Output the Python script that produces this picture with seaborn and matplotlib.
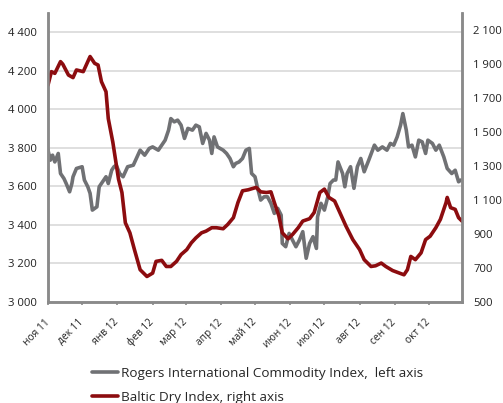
import numpy as np
import pandas as pd
import matplotlib
matplotlib.use("Agg")
import matplotlib.pyplot as plt
from matplotlib.ticker import FuncFormatter
import seaborn as sns

# Rogers International Commodity Index (left axis)
rici_dates = [
    "2011-11-01", "2011-11-03", "2011-11-05", "2011-11-07", "2011-11-10", "2011-11-12",
    "2011-11-15", "2011-11-17", "2011-11-20", "2011-11-22", "2011-11-23", "2011-11-26",
    "2011-12-01", "2011-12-03", "2011-12-06", "2011-12-08", "2011-12-10", "2011-12-14",
    "2011-12-16", "2011-12-19", "2011-12-22", "2011-12-24", "2011-12-27", "2011-12-29",
    "2011-12-31", "2012-01-03", "2012-01-06", "2012-01-10", "2012-01-15", "2012-01-21",
    "2012-01-25", "2012-01-29", "2012-02-01", "2012-02-06", "2012-02-09", "2012-02-12",
    "2012-02-15", "2012-02-17", "2012-02-20", "2012-02-23", "2012-02-26", "2012-02-29",
    "2012-03-03", "2012-03-07", "2012-03-10", "2012-03-13", "2012-03-16", "2012-03-19",
    "2012-03-22", "2012-03-24", "2012-03-26", "2012-03-29", "2012-04-03", "2012-04-06",
    "2012-04-09", "2012-04-12", "2012-04-14", "2012-04-17", "2012-04-20", "2012-04-23",
    "2012-04-26", "2012-04-28", "2012-05-01", "2012-05-03", "2012-05-06", "2012-05-09",
    "2012-05-12", "2012-05-15", "2012-05-18", "2012-05-21", "2012-05-24", "2012-05-25",
    "2012-05-28", "2012-05-31", "2012-06-03", "2012-06-06", "2012-06-09", "2012-06-12",
    "2012-06-15", "2012-06-18", "2012-06-21", "2012-06-24", "2012-06-25", "2012-06-28",
    "2012-07-01", "2012-07-04", "2012-07-06", "2012-07-09", "2012-07-11", "2012-07-13",
    "2012-07-17", "2012-07-19", "2012-07-21", "2012-07-24", "2012-07-27", "2012-07-30",
    "2012-08-02", "2012-08-05", "2012-08-09", "2012-08-14", "2012-08-17", "2012-08-21",
    "2012-08-25", "2012-08-28", "2012-08-31", "2012-09-03", "2012-09-06", "2012-09-08",
    "2012-09-11", "2012-09-13", "2012-09-16", "2012-09-19", "2012-09-22", "2012-09-25",
    "2012-09-28", "2012-09-30", "2012-10-04", "2012-10-07", "2012-10-10", "2012-10-14",
    "2012-10-17", "2012-10-21", "2012-10-24", "2012-10-27", "2012-10-29",
]
rici_values = [
    3788, 3736, 3762, 3727, 3771, 3667, 3641, 3615, 3572, 3615, 3650, 3693,
    3702, 3633, 3598, 3564, 3477, 3494, 3598, 3624, 3650, 3615, 3684, 3702,
    3710, 3667, 3650, 3702, 3710, 3788, 3762, 3797, 3805, 3788, 3814, 3840,
    3892, 3952, 3935, 3944, 3918, 3849, 3901, 3892, 3918, 3909, 3823, 3875,
    3840, 3771, 3857, 3805, 3788, 3771, 3745, 3702, 3719, 3727, 3745, 3788,
    3797, 3667, 3650, 3598, 3529, 3546, 3546, 3512, 3460, 3486, 3451, 3304,
    3287, 3356, 3321, 3287, 3321, 3365, 3227, 3304, 3339, 3278, 3442, 3512,
    3477, 3546, 3615, 3633, 3633, 3727, 3667, 3598, 3667, 3702, 3590, 3702,
    3745, 3676, 3736, 3814, 3788, 3805, 3788, 3823, 3814, 3857, 3918, 3978,
    3892, 3805, 3814, 3753, 3840, 3831, 3771, 3840, 3823, 3788, 3814, 3753,
    3693, 3667, 3684, 3624, 3633,
]

# Baltic Dry Index (right axis)
bdi_dates = [
    "2011-11-01", "2011-11-04", "2011-11-07", "2011-11-12", "2011-11-14", "2011-11-19",
    "2011-11-23", "2011-11-26", "2011-12-02", "2011-12-08", "2011-12-12", "2011-12-15",
    "2011-12-18", "2011-12-22", "2011-12-24", "2011-12-28", "2012-01-02", "2012-01-05",
    "2012-01-08", "2012-01-12", "2012-01-16", "2012-01-21", "2012-01-27", "2012-02-01",
    "2012-02-04", "2012-02-09", "2012-02-13", "2012-02-17", "2012-02-22", "2012-02-26",
    "2012-03-02", "2012-03-06", "2012-03-10", "2012-03-15", "2012-03-19", "2012-03-24",
    "2012-03-28", "2012-04-03", "2012-04-07", "2012-04-12", "2012-04-16", "2012-04-20",
    "2012-04-25", "2012-05-02", "2012-05-06", "2012-05-11", "2012-05-15", "2012-05-18",
    "2012-05-22", "2012-05-25", "2012-05-30", "2012-06-03", "2012-06-08", "2012-06-12",
    "2012-06-18", "2012-06-22", "2012-06-27", "2012-07-01", "2012-07-05", "2012-07-10",
    "2012-07-14", "2012-07-20", "2012-07-26", "2012-08-01", "2012-08-05", "2012-08-11",
    "2012-08-15", "2012-08-20", "2012-08-24", "2012-08-30", "2012-09-05", "2012-09-09",
    "2012-09-12", "2012-09-15", "2012-09-19", "2012-09-24", "2012-09-28", "2012-10-02",
    "2012-10-07", "2012-10-11", "2012-10-16", "2012-10-17", "2012-10-20", "2012-10-24",
    "2012-10-27", "2012-10-30",
]
bdi_values = [
    1776, 1855, 1845, 1914, 1899, 1835, 1820, 1865, 1855, 1944, 1904, 1894,
    1796, 1737, 1579, 1440, 1223, 1144, 966, 907, 808, 690, 650, 670,
    739, 745, 709, 709, 739, 779, 808, 848, 877, 907, 917, 937,
    937, 931, 956, 996, 1085, 1154, 1160, 1174, 1148, 1144, 1148, 1085,
    1006, 907, 872, 897, 937, 976, 990, 1026, 1144, 1164, 1115, 1094,
    1035, 946, 867, 808, 749, 709, 713, 729, 709, 685, 670, 660,
    690, 768, 749, 789, 867, 887, 937, 986, 1085, 1115, 1055, 1045,
    996, 976,
]

month_starts = pd.date_range("2011-11-01", "2012-10-01", freq="MS")
month_labels = ["ноя 11", "дек 11", "янв 12", "фев 12", "мар 12", "апр 12",
                "май 12", "июн 12", "июл 12", "авг 12", "сен 12", "окт 12"]

rici_label = "Rogers International Commodity Index,  left axis"
bdi_label = "Baltic Dry Index, right axis"

rici = pd.DataFrame({"date": pd.to_datetime(rici_dates), "value": rici_values})
bdi = pd.DataFrame({"date": pd.to_datetime(bdi_dates), "value": bdi_values})

sns.set_style("white")
plt.rcParams["font.family"] = ["Open Sans", "DejaVu Sans"]

gray = "#707174"
red = "#8c0c0f"
axis_gray = "#8a8a8a"

fig = plt.figure(figsize=(5.03, 4.03), dpi=100)
ax = fig.add_axes([48 / 503, 1 - 302 / 403, (462 - 48) / 503, (302 - 13) / 403])
ax2 = ax.twinx()

sns.lineplot(data=rici, x="date", y="value", ax=ax, color=gray, linewidth=2.6, label=rici_label)
sns.lineplot(data=bdi, x="date", y="value", ax=ax2, color=red, linewidth=2.6, label=bdi_label)

ax.set_ylim(3000, 4500)
ax2.set_ylim(500, 2200)
ax.set_xlim(pd.Timestamp("2011-11-01"), pd.Timestamp("2012-10-30"))

ax.set_yticks(np.arange(3000, 4401, 200))
ax2.set_yticks(np.arange(500, 2101, 200))
fmt = FuncFormatter(lambda v, p: f"{v:,.0f}".replace(",", " "))
ax.yaxis.set_major_formatter(fmt)
ax2.yaxis.set_major_formatter(fmt)

ax.set_xticks(month_starts)
ax.set_xticklabels(month_labels, rotation=45, ha="right", va="center", rotation_mode="anchor")

ax.yaxis.grid(True, color="#d9d9d9", linewidth=1.2)
ax.xaxis.grid(False)
ax2.grid(False)

for a in (ax, ax2):
    a.set_xlabel("")
    a.set_ylabel("")
    a.spines["top"].set_visible(False)
    for s in ("left", "right", "bottom"):
        a.spines[s].set_color(axis_gray)
        a.spines[s].set_linewidth(1.8)
    a.tick_params(axis="y", length=0, pad=8, labelsize=8.1, colors="#222222")
ax.tick_params(axis="x", length=2, width=1.2, color=axis_gray, labelsize=7.3,
               labelcolor="#222222", pad=11.5, direction="out", bottom=True)

h1, l1 = ax.get_legend_handles_labels()
h2, l2 = ax2.get_legend_handles_labels()
ax.get_legend().remove()
ax2.get_legend().remove()
fig.legend(h1 + h2, l1 + l2, loc="upper left", bbox_to_anchor=(92 / 503, 1 - 366.5 / 403),
           frameon=False, fontsize=9.7, handlelength=1.93, handletextpad=0.22,
           labelspacing=0.82, borderpad=0, borderaxespad=0)

fig.savefig("out.png", dpi=100)
